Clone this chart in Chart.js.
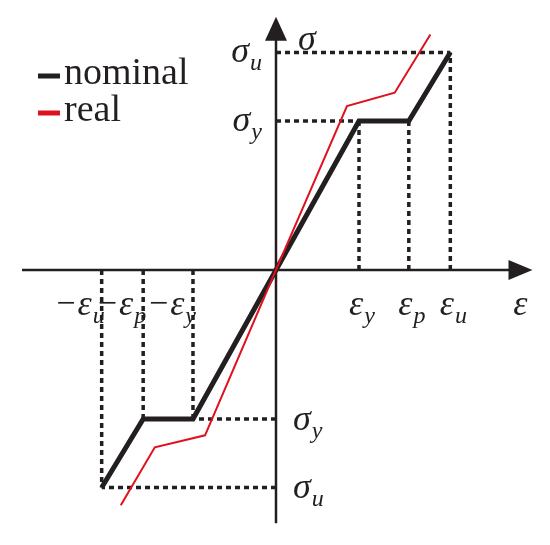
<!DOCTYPE html>
<html>
<head>
<meta charset="utf-8">
<script src="https://cdn.jsdelivr.net/npm/chart.js@4/dist/chart.umd.min.js"></script>
<style>
  html, body { margin: 0; padding: 0; background: #fff; }
  #wrap { width: 550px; height: 545px; position: relative; }
</style>
</head>
<body>
<div id="wrap"><canvas id="ssChart"></canvas></div>
<script>
// --- Data: idealised stress-strain diagram (normalised units) ---
// strain marks: eps_y, eps_p, eps_u ; stress marks: sig_y, sig_u
const strainMarks = [1, 1.6, 2.1];
const strainLabels = ['y', 'p', 'u'];
const stressMarks = [1, 1.46];
const stressLabels = ['y', 'u'];

// nominal (bilinear with plateau) curve
const nominalX = [-2.1, -1.6, -1, 0, 1, 1.6, 2.1];
const nominalY = [-1.46, -1, -1, 0, 1, 1, 1.46];

// real curve
const realX = [-1.87, -1.46, -0.855, 0, 0.855, 1.43, 1.86];
const realY = [-1.58, -1.19, -1.11, 0, 1.10, 1.19, 1.58];

const seriesNames = ['nominal', 'real'];

const BLACK = '#231f20';
const RED = '#e0101e';
const SERIF = "'Liberation Serif', 'Times New Roman', serif";

const toPoints = (xs, ys) => xs.map((x, i) => ({ x: x, y: ys[i] }));

// Dashed guide lines from the nominal curve's corner points to both axes
function guidePoints() {
  const pts = [];
  const stressAt = [stressMarks[0], stressMarks[0], stressMarks[1]];
  [1, -1].forEach(sgn => {
    strainMarks.forEach((e, i) => {
      pts.push({ x: sgn * e, y: 0 }, { x: sgn * e, y: sgn * stressAt[i] }, { x: null, y: null });
    });
    pts.push({ x: 0, y: sgn * stressMarks[0] }, { x: sgn * strainMarks[0], y: sgn * stressMarks[0] }, { x: null, y: null });
    pts.push({ x: 0, y: sgn * stressMarks[1] }, { x: sgn * strainMarks[2], y: sgn * stressMarks[1] }, { x: null, y: null });
  });
  return pts;
}

// Draw symbol with optional prefix and italic subscript
function drawSymbol(ctx, prefix, main, sub, x, baseline, align) {
  const mainFont = 'italic 36px ' + SERIF;
  const subFont = 'italic 24px ' + SERIF;
  const preFont = '34px ' + SERIF;
  ctx.font = preFont; const wp = prefix ? ctx.measureText(prefix).width + 2 : 0;
  ctx.font = mainFont; const wm = ctx.measureText(main).width;
  ctx.font = subFont; const ws = sub ? ctx.measureText(sub).width : 0;
  const total = wp + wm + 1 + ws;
  let left = x;
  if (align === 'center') left = x - total / 2;
  if (align === 'right') left = x - total;
  ctx.fillStyle = BLACK;
  ctx.textAlign = 'left';
  ctx.textBaseline = 'alphabetic';
  if (prefix) { ctx.font = preFont; ctx.fillText(prefix, left, baseline - 1); }
  ctx.font = mainFont; ctx.fillText(main, left + wp, baseline);
  if (sub) { ctx.font = subFont; ctx.fillText(sub, left + wp + wm + 1, baseline + 8); }
}

const axesAndLabels = {
  id: 'axesAndLabels',
  beforeDatasetsDraw(chart) {
    const ctx = chart.ctx;
    const xs = chart.scales.x, ys = chart.scales.y;
    const ox = xs.getPixelForValue(0), oy = ys.getPixelForValue(0);
    ctx.save();
    ctx.strokeStyle = BLACK;
    ctx.fillStyle = BLACK;
    ctx.lineWidth = 2.5;
    // horizontal axis
    const xL = xs.getPixelForValue(-3.06), xR = xs.getPixelForValue(3.09);
    ctx.beginPath(); ctx.moveTo(xL, oy); ctx.lineTo(xR - 20, oy); ctx.stroke();
    ctx.beginPath(); ctx.moveTo(xR, oy); ctx.lineTo(xR - 24, oy - 10); ctx.lineTo(xR - 24, oy + 10); ctx.closePath(); ctx.fill();
    // vertical axis
    const yT = ys.getPixelForValue(1.70), yB = ys.getPixelForValue(-1.70);
    ctx.beginPath(); ctx.moveTo(ox, yB); ctx.lineTo(ox, yT + 20); ctx.stroke();
    ctx.beginPath(); ctx.moveTo(ox, yT); ctx.lineTo(ox - 11, yT + 24); ctx.lineTo(ox + 11, yT + 24); ctx.closePath(); ctx.fill();
    ctx.restore();
  },
  afterDraw(chart) {
    const ctx = chart.ctx;
    const xs = chart.scales.x, ys = chart.scales.y;
    const ox = xs.getPixelForValue(0), oy = ys.getPixelForValue(0);
    ctx.save();
    // strain labels
    strainMarks.forEach((e, i) => {
      drawSymbol(ctx, '', '\u03b5', strainLabels[i], xs.getPixelForValue(e) + 3, oy + 45, 'center');
      drawSymbol(ctx, '\u2212', '\u03b5', strainLabels[i], xs.getPixelForValue(-e) + 3, oy + 45, 'right');
    });
    drawSymbol(ctx, '', '\u03b5', '', xs.getPixelForValue(2.95), oy + 45, 'center');
    // stress labels
    stressMarks.forEach((s, i) => {
      drawSymbol(ctx, '', '\u03c3', stressLabels[i], ox - 14, ys.getPixelForValue(s) + 10, 'right');
      drawSymbol(ctx, '', '\u03c3', stressLabels[i], ox + 17, ys.getPixelForValue(-s) + 11, 'left');
    });
    drawSymbol(ctx, '', '\u03c3', '', ox + 22, ys.getPixelForValue(1.46) - 2, 'left');
    // legend
    const colors = [BLACK, RED];
    seriesNames.forEach((name, i) => {
      const y = 76 + i * 37;
      ctx.fillStyle = colors[i];
      ctx.fillRect(38, y - 2.5, 22, 5);
      ctx.fillStyle = BLACK;
      ctx.font = '38px ' + SERIF;
      ctx.textAlign = 'left';
      ctx.textBaseline = 'alphabetic';
      ctx.fillText(name, 64, y + 8);
    });
    ctx.restore();
  }
};

new Chart(document.getElementById('ssChart'), {
  type: 'scatter',
  data: {
    datasets: [
      {
        label: seriesNames[1],
        data: toPoints(realX, realY),
        showLine: true,
        borderColor: RED,
        borderWidth: 2,
        pointRadius: 0,
        tension: 0,
        order: 0
      },
      {
        label: seriesNames[0],
        data: toPoints(nominalX, nominalY),
        showLine: true,
        borderColor: BLACK,
        borderWidth: 5,
        borderJoinStyle: 'miter',
        pointRadius: 0,
        tension: 0,
        order: 1
      },
      {
        label: 'guides',
        data: guidePoints(),
        showLine: true,
        spanGaps: false,
        borderColor: BLACK,
        borderWidth: 3.5,
        borderDash: [5, 4],
        pointRadius: 0,
        tension: 0,
        order: 2
      }
    ]
  },
  options: {
    responsive: true,
    maintainAspectRatio: false,
    animation: false,
    layout: { padding: 0 },
    plugins: {
      legend: { display: false },
      tooltip: { enabled: false }
    },
    scales: {
      x: { type: 'linear', display: false, min: -3.325, max: 3.301 },
      y: { type: 'linear', display: false, min: -1.846, max: 1.812 }
    }
  },
  plugins: [axesAndLabels]
});
</script>
</body>
</html>
